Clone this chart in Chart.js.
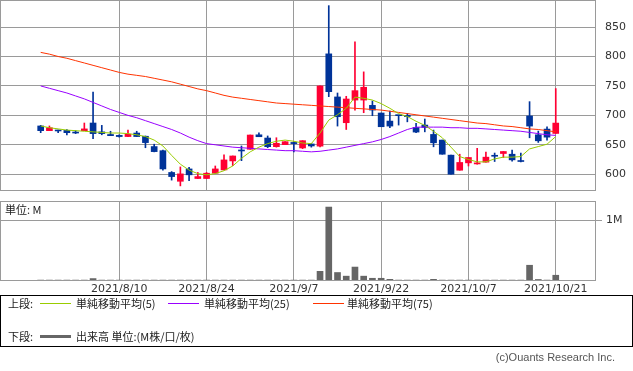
<!DOCTYPE html>
<html>
<head>
<meta charset="utf-8">
<script src="https://cdn.jsdelivr.net/npm/chart.js@4/dist/chart.umd.min.js"></script>
<style>
  body { margin: 0; background: #fff; width: 633px; height: 371px; overflow: hidden; position: relative;
         font-family: "DejaVu Sans", "Noto Sans CJK JP", sans-serif; }
  canvas { position: absolute; left: 0; }
  #price { top: 0; }
  #volume { top: 200px; }
  .txt { position: absolute; font-size: 11px; line-height: 13px; color: #222; white-space: nowrap; }
  .jp { font-family: "Noto Sans CJK JP", sans-serif; }
  .key { position: absolute; width: 31px; }
  #legend { position: absolute; left: 0; top: 295px; width: 633px; height: 52px; box-sizing: border-box; border: 1px solid #000; }
  #copy { position: absolute; right: 18px; top: 351px; font-family: "Liberation Sans", sans-serif; font-size: 11px; color: #555; }
</style>
</head>
<body>
<canvas id="price" width="633" height="191"></canvas>
<canvas id="volume" width="633" height="100"></canvas>

<div class="txt jp" style="left:5px;top:203px;">単位: M</div>

<div id="legend"></div>
<div class="txt jp" style="left:8px;top:297px;">上段:</div>
<div class="key" style="left:40px;top:303px;height:1px;background:#99cc00;"></div>
<div class="txt jp" style="left:76px;top:297px;">単純移動平均(5)</div>
<div class="key" style="left:168px;top:303px;height:1px;background:#9900ff;"></div>
<div class="txt jp" style="left:204px;top:297px;">単純移動平均(25)</div>
<div class="key" style="left:313px;top:303px;height:1px;background:#ff3300;"></div>
<div class="txt jp" style="left:347px;top:297px;">単純移動平均(75)</div>
<div class="txt jp" style="left:8px;top:330px;">下段:</div>
<div class="key" style="left:40px;top:335px;height:3px;background:#666;"></div>
<div class="txt jp" style="left:76px;top:330px;">出来高 単位:(M株/口/枚)</div>

<div id="copy">(c)Ouants Research Inc.</div>

<script>
// trading days, 2021/7/27 .. 2021/10/21
const dates = [
  '2021/7/27','2021/7/28','2021/7/29','2021/7/30','2021/8/2','2021/8/3','2021/8/4','2021/8/5','2021/8/6','2021/8/10',
  '2021/8/11','2021/8/12','2021/8/13','2021/8/16','2021/8/17','2021/8/18','2021/8/19','2021/8/20','2021/8/23','2021/8/24',
  '2021/8/25','2021/8/26','2021/8/27','2021/8/30','2021/8/31','2021/9/1','2021/9/2','2021/9/3','2021/9/6','2021/9/7',
  '2021/9/8','2021/9/9','2021/9/10','2021/9/13','2021/9/14','2021/9/15','2021/9/16','2021/9/17','2021/9/21','2021/9/22',
  '2021/9/24','2021/9/27','2021/9/28','2021/9/29','2021/9/30','2021/10/1','2021/10/4','2021/10/5','2021/10/6','2021/10/7',
  '2021/10/8','2021/10/11','2021/10/12','2021/10/13','2021/10/14','2021/10/15','2021/10/18','2021/10/19','2021/10/20','2021/10/21'
];
const tickIdx = [9, 19, 29, 39, 49, 59];

const openP = [
  682, 674, 675, 674.5, 671, 674, 687, 672, 667.5, 666,
  664, 670, 664.5, 647, 640, 603, 588, 609, 592.7, 592.7,
  601.7, 607.3, 622.6, 640, 642.4, 667, 661.5, 646.8, 650.2, 654,
  644.6, 651.4, 647.7, 804.5, 731.3, 687.5, 726, 726, 717, 704,
  690.3, 700, 700, 679.5, 683.5, 667.6, 658, 632.4, 606.8, 619.3,
  617.5, 620.5, 631, 635.2, 634, 622, 699, 667, 676.7, 669.3
];
const highP = [
  683, 682, 675, 676, 674, 687, 739.5, 683, 673, 667,
  675, 673, 665, 651, 641, 604.5, 612.4, 611.6, 603, 603,
  614, 632.8, 631, 648, 666.6, 670.5, 665, 662, 655.3, 655,
  657, 652, 750, 886.4, 738, 732.4, 825, 773.9, 724.4, 704,
  707.4, 700, 703.4, 686.4, 693.8, 675, 658, 632.4, 634, 628.4,
  644, 637.5, 636, 638.6, 641, 636, 723.3, 673.3, 680.7, 745.5
];
const lowP = [
  670.6, 674, 670.6, 666.7, 669, 674, 660.5, 667, 665.5, 663,
  664, 664, 645, 638, 607, 590, 580.2, 589, 592.7, 592.7,
  601.7, 607.3, 614.7, 623, 642.4, 663.7, 645, 646, 650.2, 638,
  643.5, 646, 646.6, 731.8, 681.8, 676, 709, 704.5, 699.4, 680.7,
  679, 683.5, 689, 670.5, 672, 646.6, 634, 600, 606.8, 614,
  617, 620.5, 621.6, 628.4, 622, 621, 661.9, 654, 658, 669.3
];
const closeP = [
  674, 679, 673.5, 670.6, 670, 677, 669, 669, 665.5, 664,
  668, 664, 653.7, 638.4, 609, 596, 600.6, 599, 596, 601.7,
  609, 624.3, 631, 639.5, 666.6, 663.7, 646.8, 652.5, 655.3, 652,
  657, 648, 750, 740.3, 697.7, 727.8, 742, 747.7, 709, 680.7,
  681.8, 699.5, 698, 671.6, 679.5, 653.4, 634, 600, 620, 628.4,
  619.3, 629, 630.5, 638.6, 624.4, 621.6, 681.8, 656.8, 663, 686.9
];

const ma5 = [
  682, 679, 677, 675, 674, 673, 672, 671, 670, 670,
  669, 667, 664, 658, 648, 632, 617, 607, 601, 599,
  601, 606, 614, 627, 638, 646, 652, 656, 658, 656,
  653, 652, 670, 692, 701, 712, 731, 729, 726, 720,
  712, 703, 698, 690, 683, 673, 662, 646, 630, 625,
  621, 621, 626, 629, 629, 630, 643, 647, 651, 664
];
const ma25 = [
  750, 746, 742, 738, 733, 728, 722, 716, 710, 705,
  700, 696, 691, 686, 681, 676, 670, 663, 657, 652,
  650, 648, 646, 645, 644, 643, 642, 641, 640, 640,
  639, 638, 639, 641, 643, 646, 649, 652, 655, 659,
  664, 670, 676, 680, 680, 680, 680, 679, 679, 678,
  678, 677, 676, 675, 674, 673, 671, 669, 667, 666
];
const ma75 = [
  807, 804, 800, 797, 793, 789, 785, 781, 777, 773,
  770, 768, 766, 763, 760, 757, 753, 749, 745, 742,
  738, 734, 731, 729, 727, 725, 723, 721, 720, 719,
  718, 717, 716, 715, 714, 713, 712, 711, 710, 709,
  707, 705, 703, 701, 699, 697, 695, 693, 691, 689,
  687, 686, 684, 682, 681, 679, 677, 676, 674, 672
];

// volume in millions of shares
const volume = [
  0.015, 0.015, 0.015, 0.015, 0.015, 0.015, 0.04, 0.015, 0.015, 0.015,
  0.015, 0.015, 0.015, 0.015, 0.015, 0.015, 0.015, 0.015, 0.015, 0.015,
  0.015, 0.015, 0.015, 0.015, 0.015, 0.015, 0.015, 0.015, 0.015, 0.015,
  0.015, 0.015, 0.16, 1.22, 0.14, 0.08, 0.23, 0.08, 0.045, 0.045,
  0.028, 0.015, 0.015, 0.015, 0.015, 0.028, 0.015, 0.015, 0.015, 0.015,
  0.015, 0.015, 0.015, 0.015, 0.015, 0.015, 0.26, 0.025, 0.015, 0.095
];

const priceTicks = [600, 650, 700, 750, 800, 850];
const volumeTicks = [1];

const UP = '#ff0033';
const DOWN = '#003399';
const GRID = '#9a9a9a';
const LABEL = '#333';
const FONT = { family: '"DejaVu Sans", sans-serif', size: 11 };
const X_MIN = -4.66;
const X_MAX = 63.61;

const candleColors = closeP.map((c, i) => (c >= openP[i] ? UP : DOWN));

// grey frame round each plot area
const frame = {
  id: 'frame',
  afterDraw(chart) {
    const { ctx, chartArea: a } = chart;
    ctx.save();
    ctx.strokeStyle = GRID;
    ctx.lineWidth = 1;
    ctx.strokeRect(a.left + 0.5, a.top + 0.5, a.right - a.left - 1, a.bottom - a.top - 1);
    ctx.restore();
  },
};

// no label overhang padding, the plot fills its box
const noPad = (s) => {
  s.paddingTop = 0;
  s.paddingBottom = 0;
  s.paddingLeft = 0;
  s.paddingRight = 0;
};

const xScale = (showLabels) => ({
  type: 'linear',
  min: X_MIN,
  max: X_MAX,
  offset: false,
  afterBuildTicks: (s) => { s.ticks = tickIdx.map((v) => ({ value: v })); },
  ticks: {
    display: showLabels,
    callback: (v) => dates[v],
    padding: 2,
    maxRotation: 0,
    autoSkip: false,
    font: FONT,
    color: LABEL,
  },
  grid: { color: GRID, drawTicks: false, offset: false },
  border: { display: false },
  afterFit: (s) => { s.height = showLabels ? 19 : 0; noPad(s); },
});

const maLine = (values, color) => ({
  type: 'line',
  data: values.map((v, i) => ({ x: i, y: v })),
  borderColor: color,
  borderWidth: 1,
  pointRadius: 0,
  tension: 0,
});

new Chart(document.getElementById('price'), {
  type: 'bar',
  data: {
    datasets: [
      maLine(ma5, '#99cc00'),
      maLine(ma25, '#9900ff'),
      maLine(ma75, '#ff3300'),
      {
        data: openP.map((o, i) => ({ x: i, y: [o, closeP[i]] })),
        backgroundColor: candleColors,
        barThickness: 6,
        grouped: false,
        minBarLength: 1,
      },
      {
        data: lowP.map((l, i) => ({ x: i, y: [l, highP[i]] })),
        backgroundColor: candleColors,
        barThickness: 1,
        grouped: false,
      },
    ],
  },
  options: {
    responsive: false,
    animation: false,
    events: [],
    layout: { padding: 0, autoPadding: false },
    plugins: { legend: { display: false }, tooltip: { enabled: false } },
    scales: {
      x: xScale(false),
      y: {
        position: 'right',
        min: 571.5,
        max: 896,
        afterBuildTicks: (s) => { s.ticks = priceTicks.map((v) => ({ value: v })); },
        ticks: { padding: 9, font: FONT, color: LABEL },
        grid: { color: GRID, drawTicks: false },
        border: { display: false },
        afterFit: (s) => { s.width = 37; noPad(s); },
      },
    },
  },
  plugins: [frame],
});

new Chart(document.getElementById('volume'), {
  type: 'bar',
  data: {
    datasets: [{
      data: volume.map((v, i) => ({ x: i, y: v })),
      backgroundColor: '#666666',
      barThickness: 6,
    }],
  },
  options: {
    responsive: false,
    animation: false,
    events: [],
    layout: { padding: { top: 1 }, autoPadding: false },
    plugins: { legend: { display: false }, tooltip: { enabled: false } },
    scales: {
      x: xScale(true),
      y: {
        position: 'right',
        min: 0,
        max: 1.32,
        afterBuildTicks: (s) => { s.ticks = volumeTicks.map((v) => ({ value: v })); },
        ticks: { padding: 4, font: FONT, color: LABEL, callback: (v) => v + 'M' },
        grid: { color: GRID, tickLength: 6 },
        border: { display: false },
        afterFit: (s) => { s.width = 37; noPad(s); },
      },
    },
  },
  plugins: [frame],
});
</script>
</body>
</html>
